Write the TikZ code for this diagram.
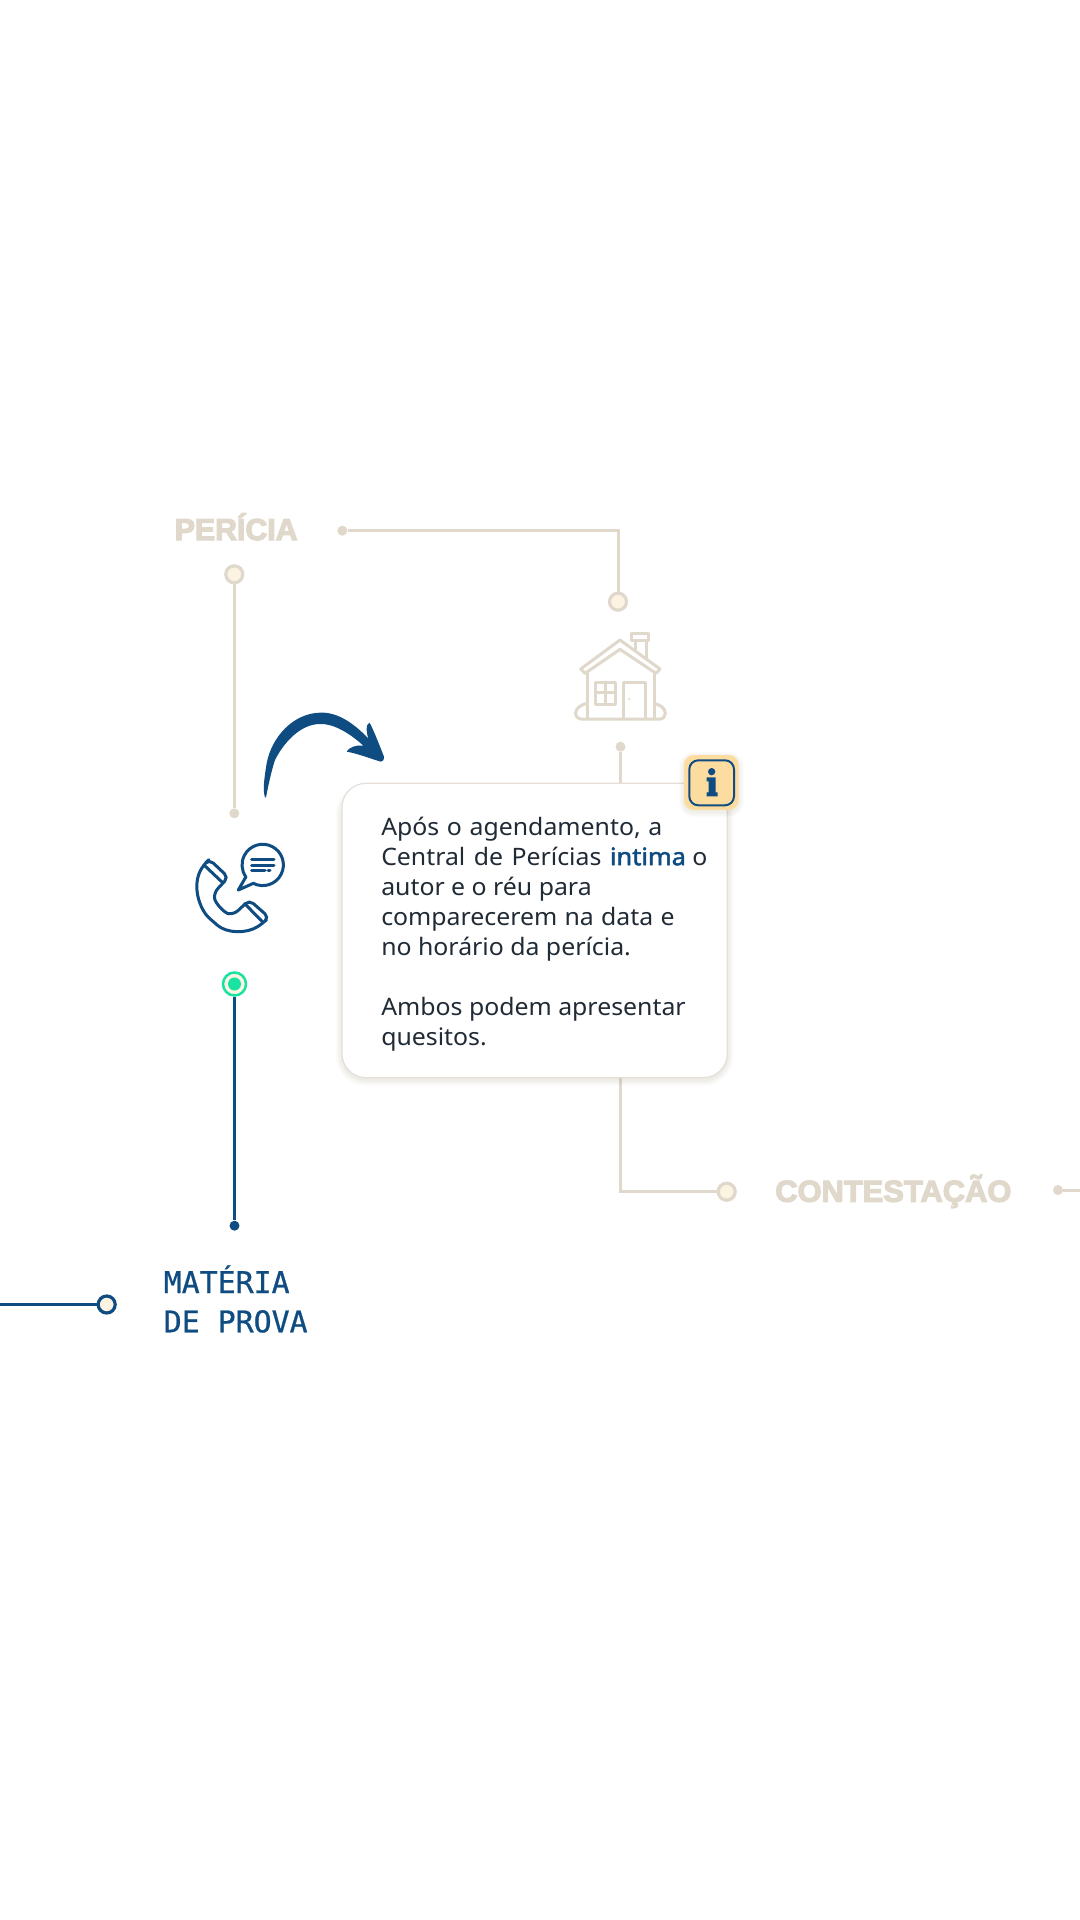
\documentclass[tikz,border=0pt]{standalone}
\usepackage{fontspec}
\setmainfont[FakeStretch=1.035]{Noto Sans}
\newfontfamily\bodybold[FakeStretch=1.06,FakeBold=2]{Noto Sans}
\newfontfamily\headfont[FakeBold=4]{Liberation Sans Bold}
\newfontfamily\headwide[FakeBold=4,FakeStretch=1.02]{Liberation Sans Bold}
\newfontfamily\monofnt[FakeBold=0.8]{DejaVu Sans Mono}
\definecolor{beige}{HTML}{DFD8CB}
\definecolor{cream}{HTML}{FDF3E3}
\definecolor{navy}{HTML}{0F4C81}
\definecolor{mint}{HTML}{19E3A1}
\definecolor{inkc}{HTML}{212B36}
\definecolor{badgec}{HTML}{FDDC9F}
\definecolor{cardedge}{HTML}{E6DFD8}
\definecolor{shadowc}{HTML}{8A7F6A}
\def\px{0.75pt}
\def\gapa{\kern0.9pt\ }
\def\gapb{\kern1.5pt\ }
\def\gapc{\kern0.6pt\ }
\tikzset{
  x=0.75pt,y=-0.75pt,
  conn/.style={line width=3*\px,color=beige},
  connb/.style={line width=3*\px,color=navy},
  ringb/.style={circle,draw=beige,fill=cream,line width=3.2*\px,inner sep=0pt,minimum size=17*\px},
  ringn/.style={circle,draw=navy,fill=cream,line width=3.2*\px,inner sep=0pt,minimum size=17*\px},
  dotb/.style={circle,fill=beige,inner sep=0pt,minimum size=10*\px},
  dotn/.style={circle,fill=navy,inner sep=0pt,minimum size=10*\px},
  headlabel/.style={anchor=base west,inner sep=0pt,text=beige,font=\fontsize{22.7pt}{23pt}\selectfont},
  monolabel/.style={anchor=base west,inner sep=0pt,text=navy,font=\monofnt\fontsize{22.4pt}{22.4pt}\selectfont},
  icon/.style={line width=3*\px,line join=round,line cap=round,fill=none},
}
\begin{document}
\begin{tikzpicture}
\useasboundingbox (0,0) rectangle (1080,1920);
\fill[white] (0,0) rectangle (1080,1920);

% labels
\node[headlabel] (pericia) at (174.5,540) {\headfont PERÍCIA};
\node[headlabel] (contest) at (775,1201.7) {\headwide CONTESTAÇÃO};
\node[monolabel] (materia) at (163.5,1293) {MATÉRIA};
\node[monolabel] (deprova) at (163.5,1332.3) {DE PROVA};

% nodes
\node[ringb] (pring) at (234.3,574.3) {};
\node[dotb] (pend) at (234.3,813.3) {};
\node[dotb] (ptop) at (342.3,530.7) {};
\node[ringb] (hring) at (618,601.7) {};
\node[dotb] (hdot) at (620.5,746.7) {};
\node[ringb] (cring) at (726.7,1191.7) {};
\node[dotb] (cdot) at (1058,1190) {};
\coordinate (cedge) at (1080,1190);
\node[circle,draw=mint,fill=cream,line width=2.5*\px,inner sep=0pt,minimum size=23*\px] (gring) at (234.5,984) {};
\node[circle,fill=mint,inner sep=0pt,minimum size=13*\px] (gdot) at (234.5,984) {};
\node[dotn] (mend) at (234.5,1225.7) {};
\node[ringn] (mring) at (106.7,1304.5) {};
\coordinate (medge) at (0,1304.5);

% connectors
\draw[conn] (pring) -- (pend);
\draw[conn] (ptop) -| (hring);
\draw[conn] (hdot) |- (cring);
\draw[conn] (cdot) -- (cedge);
\draw[connb] (gring) -- (mend);
\draw[connb] (medge) -- (mring);

% curved arrow
\begin{scope}[shift={(150,480)},x=0.25pt,y=-0.25pt]
\fill[navy] (345,952) .. controls (338,930) and (342,900) .. (350,850)
 .. controls (365,770) and (430,700) .. (510,698)
 .. controls (570,695) and (620,740) .. (655,775)
 .. controls (650,760) and (645,735) .. (658,728)
 .. controls (665,735) and (690,800) .. (702,830)
 .. controls (702,840) and (698,846) .. (692,845)
 .. controls (660,835) and (620,820) .. (590,815)
 .. controls (595,803) and (620,793) .. (640,797)
 .. controls (600,760) and (550,730) .. (510,732)
 .. controls (450,732) and (400,790) .. (375,840)
 .. controls (365,870) and (355,915) .. (348,952) -- cycle;
\end{scope}

% house icon
\begin{scope}[shift={(530,560)},x=0.25pt,y=-0.25pt]
\draw[icon,beige] (152,327) -- (270,240) -- (390,327) -- (378,340) -- (270,268) -- (165,340) -- cycle;
\draw[icon,beige] (305,220) rectangle (355,242);
\draw[icon,beige] (315,242) -- (315,268) (350,242) -- (350,292);
\draw[icon,beige] (172,340) -- (172,477) (372,340) -- (372,477);
\draw[icon,beige] (172,430) .. controls (150,435) and (137,445) .. (137,460) .. controls (137,470) and (145,477) .. (152,477) -- (390,477) .. controls (400,477) and (406,468) .. (406,460) .. controls (406,445) and (392,435) .. (372,430);
\draw[icon,beige] (197,366) rectangle (255,432);
\draw[icon,beige] (226,366) -- (226,432) (197,398) -- (255,398);
\draw[icon,beige] (280,477) -- (280,366) -- (345,366) -- (345,477);
\fill[beige] (298,417) circle[radius=3.5];
\end{scope}

% phone icon
\begin{scope}[shift={(170,800)},x=0.25pt,y=-0.25pt]
\draw[icon,navy] (278-50,195+35) -- (205,270) -- (278-28,195+55) arc[start angle=117,end angle=-215,radius=62];
\draw[icon,navy] (245,178) -- (312,178) (245,195) -- (312,195) (245,212) -- (285,212) (294,212) -- (300,212);
\draw[icon,navy,rounded corners=4pt] (118,178) -- (175,232) -- (132,278) .. controls (135,310) and (165,340) .. (192,343) -- (238,300) -- (297,352) -- (278,370) .. controls (230,402) and (170,400) .. (130,365) .. controls (90,330) and (62,255) .. (105,190) -- cycle;
\draw[icon,navy] (102,195) -- (158,248) (224,311) -- (278,366);
\end{scope}

% card
\foreach \i in {1,...,6}{
  \fill[shadowc,opacity=0.022,rounded corners={(24+\i)*\px}] (342-\i,790-\i) rectangle (727.3+\i,1079.7+\i);
}
\node[rectangle,draw=cardedge,fill=white,line width=1.2*\px,rounded corners=24*\px,inner sep=0pt,minimum width=385.3*\px,minimum height=294.4*\px] (card) at (534.65,930.5) {};
\node[anchor=north west,inner sep=0pt,align=left,text=inkc,font=\fontsize{18pt}{22.5pt}\selectfont] (cardtext) at (381,816.5)
{Após\gapa o\gapa agendamento,\gapa a\\
Central\gapb de\gapb Perícias\gapb \textcolor{navy}{\bodybold intima} o\\
autor e o réu para\\
comparecerem\gapc na\gapc data\gapc e\\
no horário da perícia.\\[22.5pt]
Ambos podem apresentar\\
quesitos.};

% info badge
\foreach \i in {1,...,5}{
  \fill[shadowc,opacity=0.025,rounded corners={(10+\i)*\px}] (684-\i,757-\i) rectangle (738.7+\i,812+\i);
}
\node[rectangle,fill=badgec,rounded corners=10*\px,inner sep=0pt,minimum width=54.7*\px,minimum height=55*\px] (badge) at (711.35,782.5) {};
\node[rectangle,draw=navy,line width=2*\px,rounded corners=9*\px,inner sep=0pt,minimum width=44.7*\px,minimum height=45*\px] (badgein) at (711.65,782.8) {};
\begin{scope}[shift={(530,560)},x=0.25pt,y=-0.25pt]
\fill[navy] (545,635) circle[radius=11];
\fill[navy] (530,652) -- (557,652) -- (557,697) -- (563,697) -- (563,709) -- (530,709) -- (530,697) -- (536,697) -- (536,664) -- (530,664) -- cycle;
\end{scope}
\end{tikzpicture}
\end{document}
